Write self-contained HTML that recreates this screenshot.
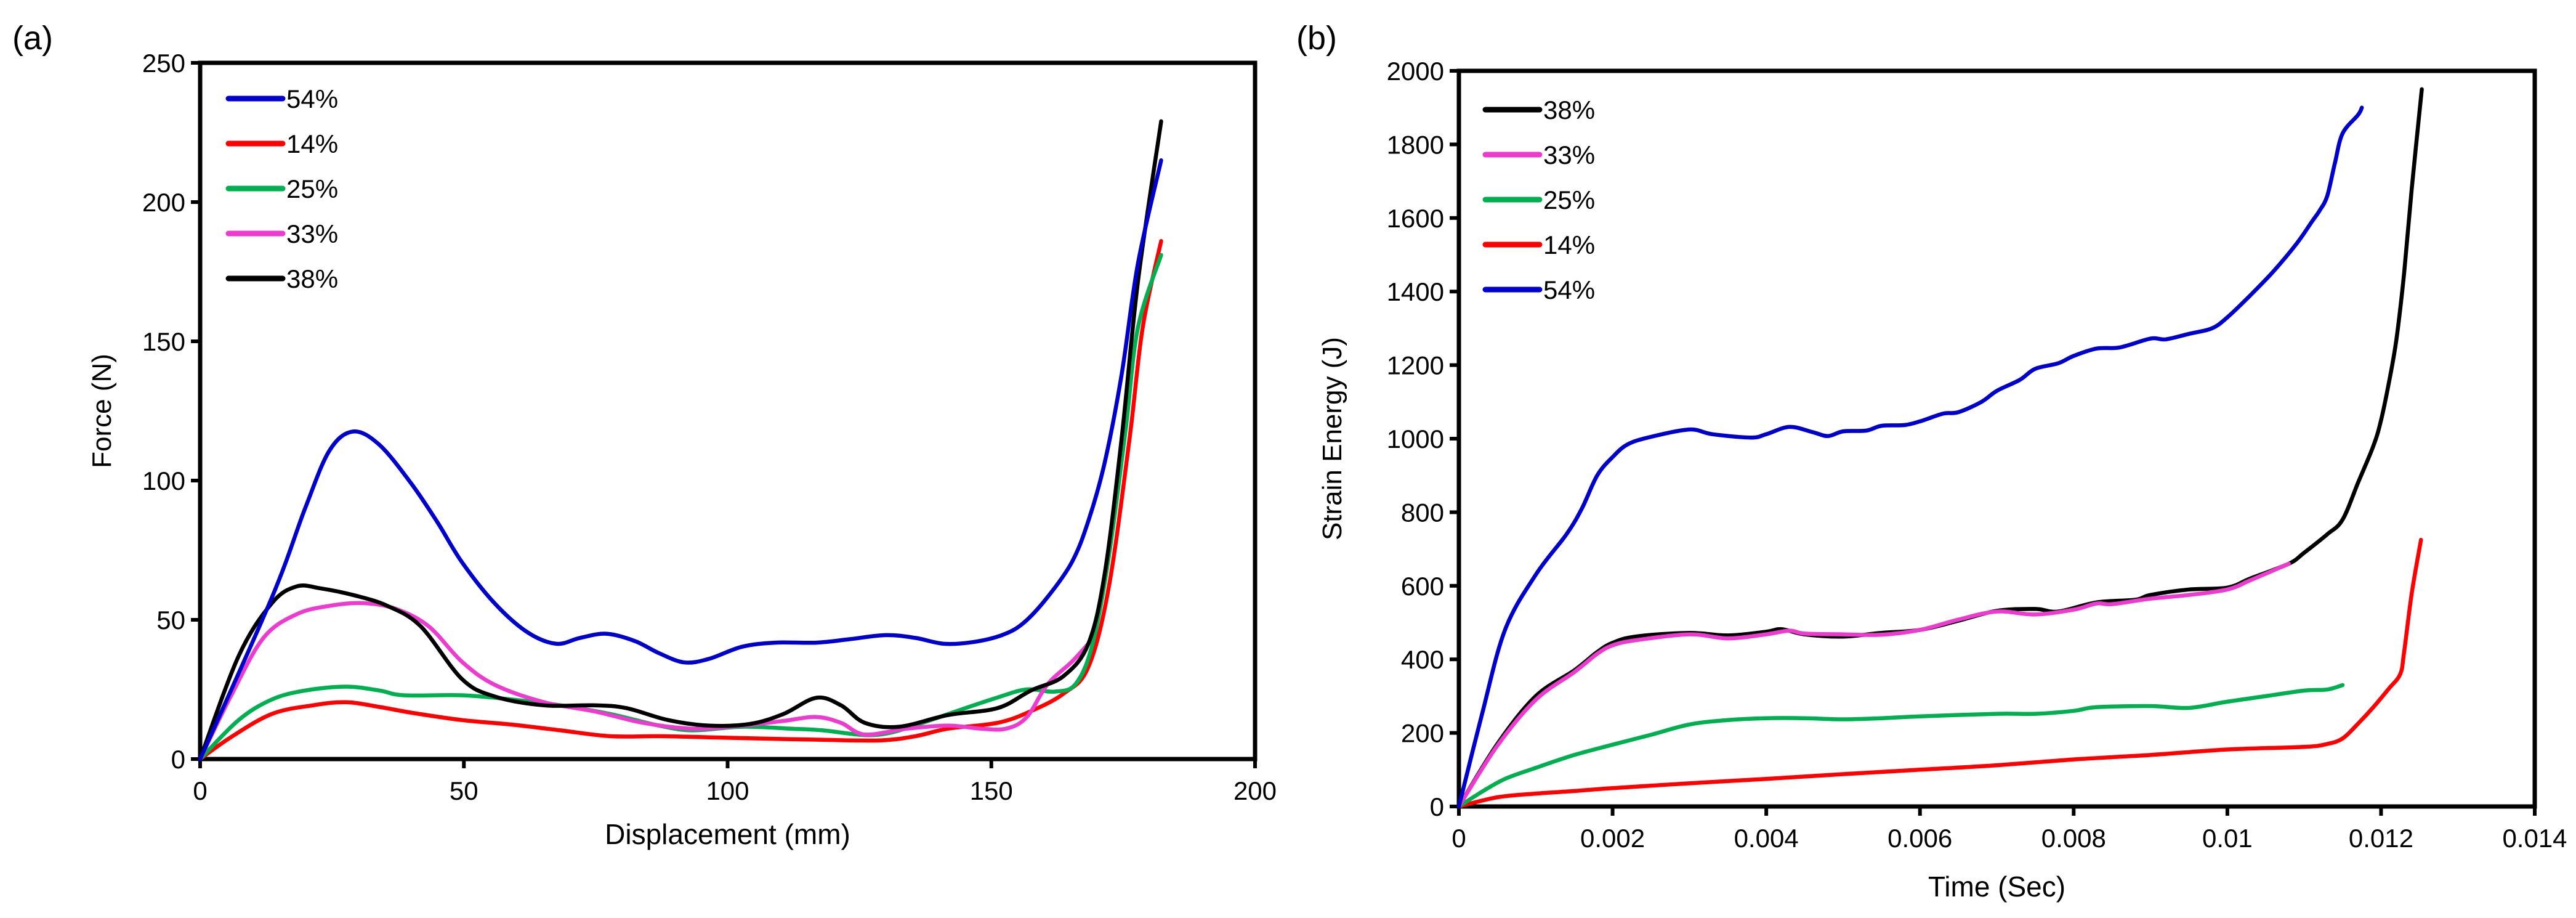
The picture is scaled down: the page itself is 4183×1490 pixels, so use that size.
<!DOCTYPE html>
<html><head><meta charset="utf-8"><style>
html,body{margin:0;padding:0;background:#fff;}
svg{display:block;}
text{font-family:"Liberation Sans Narrow","Liberation Sans",sans-serif;fill:#000;}
.t{font-size:42px;}
.ti{font-size:46px;}
.pl{font-family:"Liberation Sans",sans-serif;font-size:54px;}
</style></head><body>
<svg id="fig" width="4183" height="1490" viewBox="0 0 4183 1490" xmlns="http://www.w3.org/2000/svg">
<text class="pl" x="20" y="80">(a)</text>
<text class="pl" x="2105" y="80">(b)</text>
<g id="ga"></g>
<g id="gb"></g>
</svg>
<script>
// ---- Chart (a) data ----
const aXTicks = [0, 50, 100, 150, 200];
const aYTicks = [0, 50, 100, 150, 200, 250];
const aLegend = ["54%", "14%", "25%", "33%", "38%"];
const a54x = [0,13.6,19.9,24.5,29,34,40,45,49.6,55.8,62,67.5,72,77,82.4,87,91.8,96.5,102.7,109,116.8,123,130,135.6,141,146.5,152,156,160.6,165.3,168.4,171.5,174.7,177.8,182.2];
const a54y = [0,58,90,110.7,117.6,112.8,99,85,70.8,56,45.6,41.4,43.5,45,42.4,38,34.7,36,40.3,41.8,41.8,43,44.5,43.5,41.4,42,44.5,48.7,58,70.8,85.5,106.5,138,178,215];
const a14x = [0,5.8,13.6,21.4,27.7,34,40.2,49.6,59,68.3,77.7,87,96.5,105.9,118,129,135.6,141.8,151.2,157.5,163.7,168.4,172.3,176.2,178.7,182.2];
const a14y = [0,7.8,16.2,19.3,20.4,18.7,16.6,14,12.4,10.3,8.2,8.2,7.8,7.4,6.9,6.7,8.2,10.9,13,17.2,23.5,33,62,115,155,186];
const a25x = [0,7.3,13.6,19.9,27.7,34,38.6,49.6,59,68.3,77.7,87,93.4,102.7,112,118,126,131,137,143.4,151,156.7,162,166,169.2,172.3,175.5,177.8,182.2];
const a25y = [0,14,21.4,24.6,26,24.6,22.9,22.9,21.4,19.3,16.2,12,10.3,11.6,10.9,10.3,8.6,9.5,13,17.2,22,25,24.2,27,41.4,73,119,155,181];
const a33x = [0,5.8,12,18.3,24.5,30.8,37,43.3,49.6,55.8,65.2,74.6,84,93.4,102.7,110.6,116.8,121.5,126,134,141.8,148,152.8,156.7,160.6,165.3,168.4];
const a33y = [0,22.5,43.5,52,55,56,54,47.7,35,26.7,20.4,17.2,13,10.9,12,13.7,15.1,13,8.8,10.9,12,10.9,10.9,15,26.7,35,41.4];
const a38x = [0,7.3,13.6,18.3,22.8,29.2,35.5,41.8,49.6,55.8,65.2,74.6,80.8,88.7,96.5,104.3,110.6,116.8,121.5,126,132.5,141.8,151.2,157.5,163.7,168.4,171.5,174.7,177.8,182.2];
const a38y = [0,37,56,62,61.3,58.8,55,47.7,28.8,22.5,19.3,19.3,18.3,14,12,12.6,16.2,22,19.3,13,11.6,15.8,18.3,24.6,29.8,41.4,66.6,115,171.6,229];

// ---- Chart (b) data ----
const bXTicks = [0,0.002,0.004,0.006,0.008,0.01,0.012,0.014];
const bXLabels = ["0","0.002","0.004","0.006","0.008","0.01","0.012","0.014"];
const bYTicks = [0,200,400,600,800,1000,1200,1400,1600,1800,2000];
const bLegend = ["38%", "33%", "25%", "14%", "54%"];
const b54x = [0,0.0003,0.0006,0.001,0.0014,0.0016,0.0018,0.002,0.0022,0.0025,0.003,0.0033,0.0038,0.004,0.0043,0.0046,0.0048,0.005,0.0053,0.0055,0.0058,0.006,0.0063,0.0065,0.0068,0.007,0.0073,0.0075,0.0078,0.008,0.0083,0.0086,0.009,0.0092,0.0095,0.0098,0.01,0.0103,0.0106,0.0109,0.0111,0.0112,0.0113,0.0114,0.0115,0.0117,0.01175];
const b54y = [0,250,480,630,740,810,900,950,985,1005,1025,1012,1003,1012,1032,1018,1007,1020,1022,1035,1037,1047,1068,1072,1100,1130,1160,1190,1205,1225,1245,1248,1272,1270,1285,1300,1330,1390,1455,1530,1590,1620,1660,1750,1830,1880,1900];
const b38x = [0,0.0005,0.001,0.0015,0.0018,0.002,0.0023,0.003,0.0035,0.004,0.0042,0.0045,0.005,0.0055,0.006,0.0065,0.007,0.0075,0.0078,0.0083,0.0088,0.009,0.0095,0.01,0.0103,0.0108,0.011,0.0113,0.0115,0.0117,0.0119,0.012,0.0121,0.0122,0.0123,0.0124,0.01253];
const b38y = [0,170,300,370,420,445,462,472,465,475,482,468,462,472,480,505,532,537,530,555,562,575,590,595,620,660,690,740,780,880,980,1050,1150,1270,1450,1680,1950];
const b33x = [0,0.0005,0.001,0.0015,0.0018,0.002,0.0023,0.003,0.0035,0.004,0.0043,0.0045,0.005,0.0055,0.006,0.0065,0.007,0.0075,0.008,0.0083,0.0085,0.009,0.0095,0.01,0.0103,0.0108];
const b33y = [0,165,290,365,415,438,452,468,457,468,478,470,468,467,480,508,530,522,535,552,550,565,575,590,615,660];
const b25x = [0,0.0003,0.0006,0.001,0.0015,0.002,0.0025,0.003,0.0035,0.004,0.0045,0.005,0.0055,0.006,0.007,0.0075,0.008,0.0083,0.009,0.0095,0.01,0.0105,0.011,0.0113,0.0115];
const b25y = [0,40,75,105,140,168,195,223,235,240,240,237,240,245,252,252,260,270,273,268,285,300,315,318,330];
const b14x = [0,0.0005,0.001,0.0015,0.002,0.003,0.004,0.005,0.006,0.007,0.008,0.009,0.01,0.011,0.0113,0.0115,0.0117,0.0119,0.0121,0.01225,0.0123,0.0124,0.01252];
const b14y = [0,25,35,42,50,63,75,88,100,112,128,140,155,162,170,185,225,270,320,360,420,580,725];

const NS = "http://www.w3.org/2000/svg";
function mk(tag, attrs, parent){const e=document.createElementNS(NS,tag);for(const k in attrs)e.setAttribute(k,attrs[k]);parent.appendChild(e);return e;}
function smooth(pts){
  let d="M"+pts[0][0].toFixed(1)+","+pts[0][1].toFixed(1);
  for(let i=0;i<pts.length-1;i++){
    const p0=pts[Math.max(0,i-1)],p1=pts[i],p2=pts[i+1],p3=pts[Math.min(pts.length-1,i+2)];
    const c1x=p1[0]+(p2[0]-p0[0])/6,c1y=p1[1]+(p2[1]-p0[1])/6;
    const c2x=p2[0]-(p3[0]-p1[0])/6,c2y=p2[1]-(p3[1]-p1[1])/6;
    d+=" C"+c1x.toFixed(1)+","+c1y.toFixed(1)+" "+c2x.toFixed(1)+","+c2y.toFixed(1)+" "+p2[0].toFixed(1)+","+p2[1].toFixed(1);
  }
  return d;
}
const COL={"54%":"#0000cc","14%":"#ff0000","25%":"#00b050","33%":"#ee3bcf","38%":"#000000"};

function drawChart(g, cfg){
  const {x0,x1,y0,y1,xmin,xmax,ymin,ymax} = cfg;
  const sx=v=>x0+(v-xmin)/(xmax-xmin)*(x1-x0);
  const sy=v=>y0-(v-ymin)/(ymax-ymin)*(y0-y1);
  // frame
  const fr=mk("rect",{x:x0,y:y1,width:x1-x0,height:y0-y1,fill:"none",stroke:"#000","stroke-width":7},g);
  
  
  cfg.xTicks.forEach((v,i)=>{
    const tk=mk("line",{x1:sx(v),x2:sx(v),y1:y0,y2:y0+15,stroke:"#000","stroke-width":6},g);
    
    
    const t=mk("text",{x:sx(v),y:y0+66,"text-anchor":"middle",class:"t"},g);
    t.textContent=cfg.xLabels?cfg.xLabels[i]:String(v);
    
    
  });
  cfg.yTicks.forEach(v=>{
    const tk=mk("line",{x1:x0-15,x2:x0,y1:sy(v),y2:sy(v),stroke:"#000","stroke-width":6},g);
    
    
    const t=mk("text",{x:x0-24,y:sy(v)+15,"text-anchor":"end",class:"t"},g);
    t.textContent=String(v);
    
    
  });
  const xt=mk("text",{x:(x0+x1)/2,y:cfg.xtY,"text-anchor":"middle",class:"ti"},g);
  xt.textContent=cfg.xTitle;
  
  
  const yt=mk("text",{x:0,y:0,"text-anchor":"middle",class:"ti",style:"font-family:'Liberation Sans',sans-serif;font-size:44px",transform:"translate("+cfg.ytX+","+((y0+y1)/2)+") rotate(-90)"},g);
  yt.textContent=cfg.yTitle;
  
  
  cfg.series.forEach(s=>{
    const pts=s.xs.map((v,i)=>[sx(v),sy(s.ys[i])]);
    const p=mk("path",{d:smooth(pts),fill:"none",stroke:COL[s.name],"stroke-width":6.5,"stroke-linejoin":"round","stroke-linecap":"round"},g);
    
    
  });
  cfg.legend.forEach((name,i)=>{
    const y=cfg.legY+i*cfg.legDy;
    const l=mk("line",{x1:cfg.legX,x2:cfg.legX+88,y1:y,y2:y,stroke:COL[name],"stroke-width":9,"stroke-linecap":"round"},g);
    
    
    const t=mk("text",{x:cfg.legX+94,y:y+15,class:"t"},g);
    t.textContent=name;
    
    
  });
}

drawChart(document.getElementById("ga"),{
  x0:325,x1:2038,y0:1232,y1:102,xmin:0,xmax:200,ymin:0,ymax:250,
  xTicks:aXTicks,yTicks:aYTicks,xTitle:"Displacement (mm)",yTitle:"Force (N)",xtY:1370,ytX:180,
  series:[{name:"14%",xs:a14x,ys:a14y},{name:"25%",xs:a25x,ys:a25y},{name:"33%",xs:a33x,ys:a33y},{name:"38%",xs:a38x,ys:a38y},{name:"54%",xs:a54x,ys:a54y}],
  legend:aLegend,legX:371,legY:160,legDy:73
});
drawChart(document.getElementById("gb"),{
  x0:2369,x1:4116,y0:1309,y1:115,xmin:0,xmax:0.014,ymin:0,ymax:2000,
  xTicks:bXTicks,xLabels:bXLabels,yTicks:bYTicks,xTitle:"Time (Sec)",yTitle:"Strain Energy (J)",xtY:1455,ytX:2178,
  series:[{name:"14%",xs:b14x,ys:b14y},{name:"25%",xs:b25x,ys:b25y},{name:"38%",xs:b38x,ys:b38y},{name:"33%",xs:b33x,ys:b33y},{name:"54%",xs:b54x,ys:b54y}],
  legend:bLegend,legX:2412,legY:178,legDy:73
});
</script>
</body></html>
